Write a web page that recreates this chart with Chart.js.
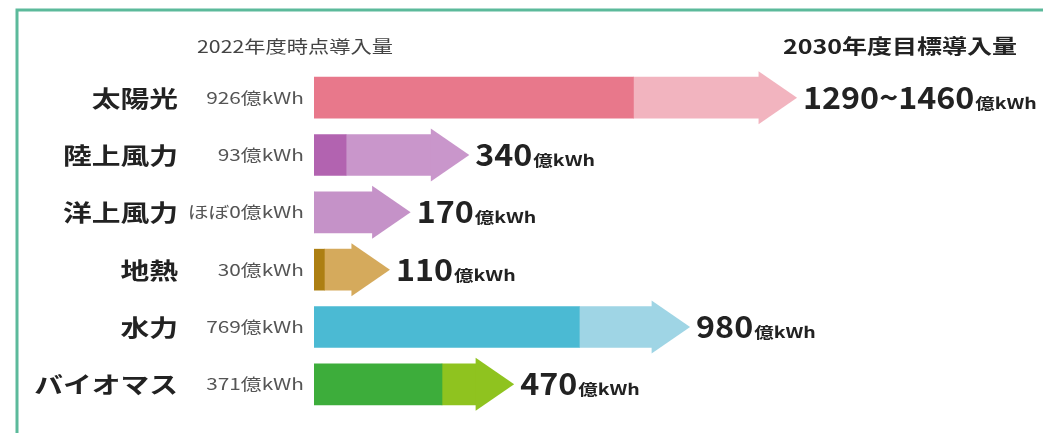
<!DOCTYPE html>
<html>
<head>
<meta charset="utf-8">
<script src="https://cdn.jsdelivr.net/npm/chart.js@4"></script>
<style>
  html, body { margin: 0; padding: 0; background: #fff; }
  #wrap { width: 1043px; height: 433px; }
</style>
</head>
<body>
<div id="wrap"><canvas id="canvas" width="1043" height="433"></canvas></div>
<script>
// 再エネ導入量（億kWh）
const categories = ["太陽光", "陸上風力", "洋上風力", "地熱", "水力", "バイオマス"];
const current2022 = [926, 93, 0, 30, 769, 371];
const currentLabels = ["926億kWh", "93億kWh", "ほぼ0億kWh", "30億kWh", "769億kWh", "371億kWh"];
const target2030 = [1290, 340, 170, 110, 980, 470];
const targetLabels = ["1290~1460", "340", "170", "110", "980", "470"];
const darkColors = ["#e8788b", "#b263b0", "#c592c8", "#ad7f12", "#4bbad3", "#3dad3b"];
const lightColors = ["#f2b4bf", "#c996cb", "#c592c8", "#d5aa5c", "#9fd5e5", "#8fc31f"];

const JP = "'Noto Sans CJK JP', sans-serif";

function stretchText(ctx, text, x, y, align, font, color, sx) {
  ctx.save();
  ctx.font = font;
  ctx.fillStyle = color;
  ctx.textAlign = align;
  ctx.textBaseline = "alphabetic";
  ctx.translate(x, y);
  ctx.scale(sx, 1);
  ctx.fillText(text, 0, 0);
  const w = ctx.measureText(text).width * sx;
  ctx.restore();
  return w;
}

const framePlugin = {
  id: "frame",
  beforeDraw(chart) {
    const ctx = chart.ctx;
    ctx.save();
    ctx.fillStyle = "#ffffff";
    ctx.fillRect(0, 0, chart.width, chart.height);
    ctx.strokeStyle = "#5cba9b";
    ctx.lineWidth = 3;
    ctx.beginPath();
    ctx.moveTo(17, chart.height);
    ctx.lineTo(17, 10);
    ctx.lineTo(chart.width, 10);
    ctx.stroke();
    ctx.restore();
  }
};

const labelPlugin = {
  id: "labels",
  afterDatasetsDraw(chart) {
    const ctx = chart.ctx;
    const yScale = chart.scales.y;
    const meta = chart.getDatasetMeta(0);

    stretchText(ctx, "2022年度時点導入量", 295, 53, "center", "400 17px " + JP, "#444", 1.25);
    stretchText(ctx, "2030年度目標導入量", 1017, 54, "right", "700 20px " + JP, "#222", 1.25);

    categories.forEach(function (cat, i) {
      const y = yScale.getPixelForValue(i);
      stretchText(ctx, cat, 178, y + 9, "right", "700 23px " + JP, "#222", 1.25);
      stretchText(ctx, currentLabels[i], 304, y + 6, "right", "400 16px " + JP, "#555", 1.3);

      const bar = meta.data[i];
      const end = Math.max(bar.x, bar.base);
      const half = bar.height / 2 + 6;
      const tip = end + 38;
      ctx.save();
      ctx.fillStyle = lightColors[i];
      ctx.beginPath();
      ctx.moveTo(end - 0.5, y - half);
      ctx.lineTo(tip, y);
      ctx.lineTo(end - 0.5, y + half);
      ctx.closePath();
      ctx.fill();
      ctx.restore();

      const w = stretchText(ctx, targetLabels[i], tip + 6, y + 11, "left", "700 31px " + JP, "#222", 1.04);
      stretchText(ctx, "億kWh", tip + 7 + w, y + 11, "left", "700 15px " + JP, "#222", 1.3);
    });
  }
};

const ctx = document.getElementById("canvas").getContext("2d");
const myChart = new Chart(ctx, {
  type: "bar",
  data: {
    labels: categories,
    datasets: [
      {
        label: "2030年度目標導入量",
        data: current2022.map(function (c, i) { return [c, target2030[i]]; }),
        backgroundColor: lightColors,
        barThickness: 41,
        grouped: false,
        order: 2
      },
      {
        label: "2022年度時点導入量",
        data: current2022.map(function (c) { return [0, c]; }),
        backgroundColor: darkColors,
        barThickness: 41,
        grouped: false,
        order: 1
      }
    ]
  },
  options: {
    indexAxis: "y",
    responsive: false,
    animation: false,
    layout: { padding: { left: 314, right: 39, top: 69, bottom: 20 } },
    plugins: {
      legend: { display: false },
      tooltip: { enabled: false }
    },
    scales: {
      x: { display: false, min: 0, max: 2000 },
      y: { display: false }
    }
  },
  plugins: [framePlugin, labelPlugin]
});
</script>
</body>
</html>
